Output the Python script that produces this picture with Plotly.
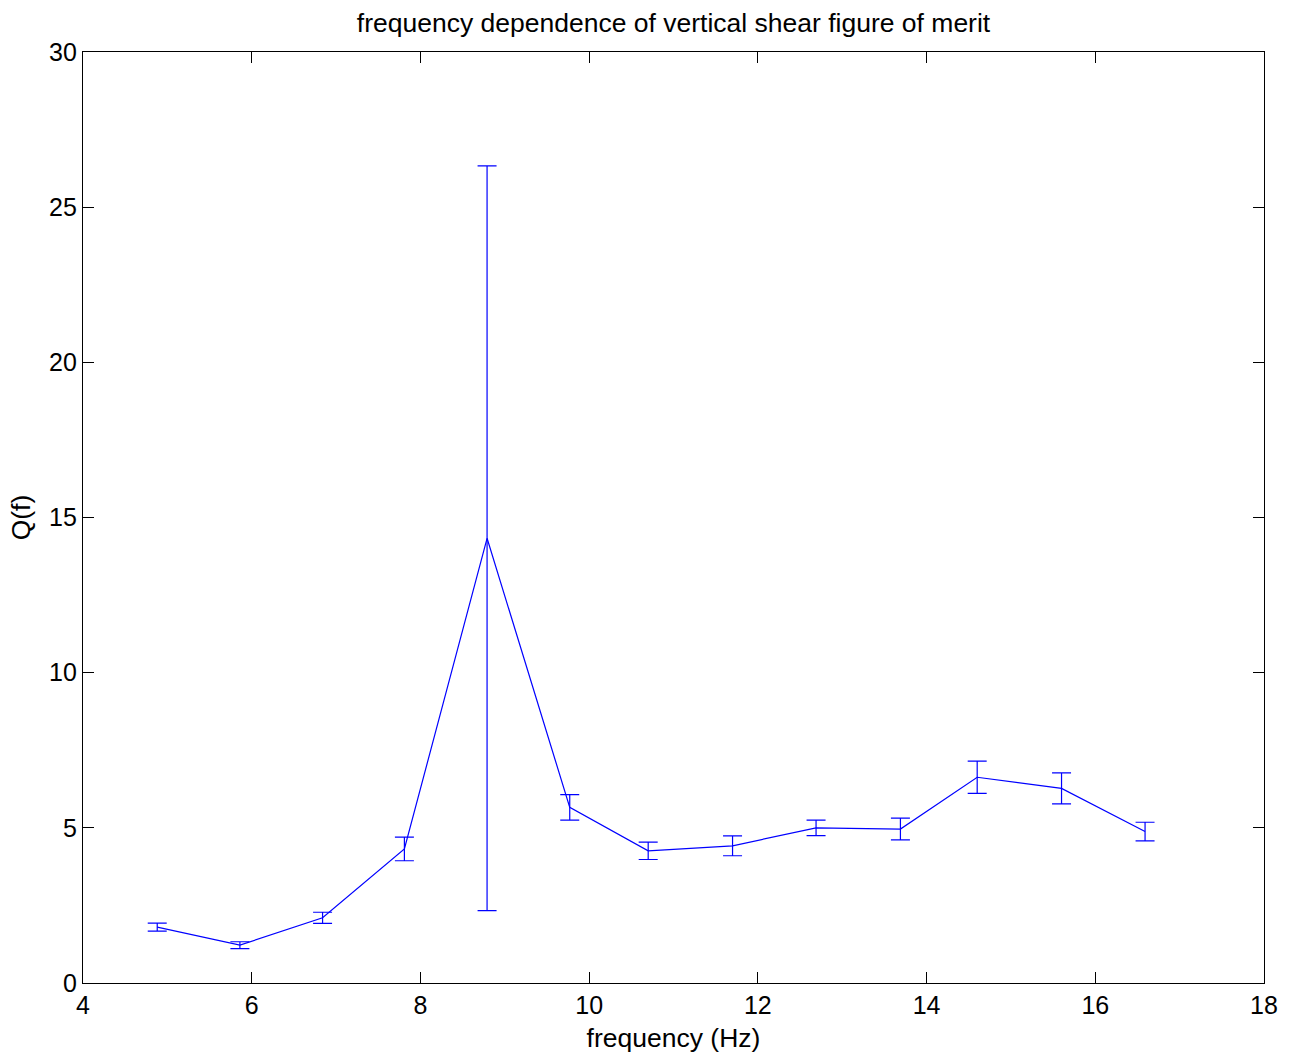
import plotly.graph_objects as go

freq = [4.88, 5.86, 6.84, 7.81, 8.79, 9.77, 10.70, 11.70, 12.69, 13.69, 14.60, 15.60, 16.59]
q = [1.80, 1.22, 2.10, 4.32, 14.33, 5.66, 4.26, 4.42, 5.00, 4.96, 6.63, 6.27, 4.88]
err = [0.13, 0.11, 0.18, 0.38, 12.0, 0.41, 0.28, 0.32, 0.25, 0.35, 0.52, 0.50, 0.30]

xticks = [4, 6, 8, 10, 12, 14, 16, 18]
yticks = [0, 5, 10, 15, 20, 25, 30]

font = "Liberation Sans, Arial, Helvetica, sans-serif"

fig = go.Figure()
fig.add_trace(go.Scatter(
    x=freq, y=q, mode="lines",
    line=dict(color="#0000ff", width=1.2),
    error_y=dict(type="data", array=err, visible=True, color="#0000ff",
                 thickness=1.2, width=9.5),
    showlegend=False,
))

axis_common = dict(
    showline=True, linecolor="black", linewidth=1.2, mirror="ticks",
    ticks="inside", ticklen=11, tickcolor="black", tickwidth=1,
    showgrid=False, zeroline=False,
    tickfont=dict(family=font, size=25, color="black"),
)

fig.update_layout(
    width=1294, height=1059,
    margin=dict(l=83, r=30, t=52, b=76),
    paper_bgcolor="white", plot_bgcolor="white",
    title=dict(text="frequency dependence of vertical shear figure of merit",
               x=(83 + 1264) / 2 / 1294, xanchor="center", y=1 - 23 / 1059, yanchor="middle",
               font=dict(family=font, size=26.5, color="black")),
    xaxis=dict(range=[4, 18], tickvals=xticks, ticktext=[str(v) for v in xticks],
               title=dict(text="frequency (Hz)", font=dict(family=font, size=26.5, color="black"), standoff=10),
               **axis_common),
    yaxis=dict(range=[0, 30], tickvals=yticks, ticktext=[str(v) for v in yticks],
               title=dict(text="Q(f)", font=dict(family=font, size=26.5, color="black"), standoff=10),
               **axis_common),
)

fig.write_html("out.html")
